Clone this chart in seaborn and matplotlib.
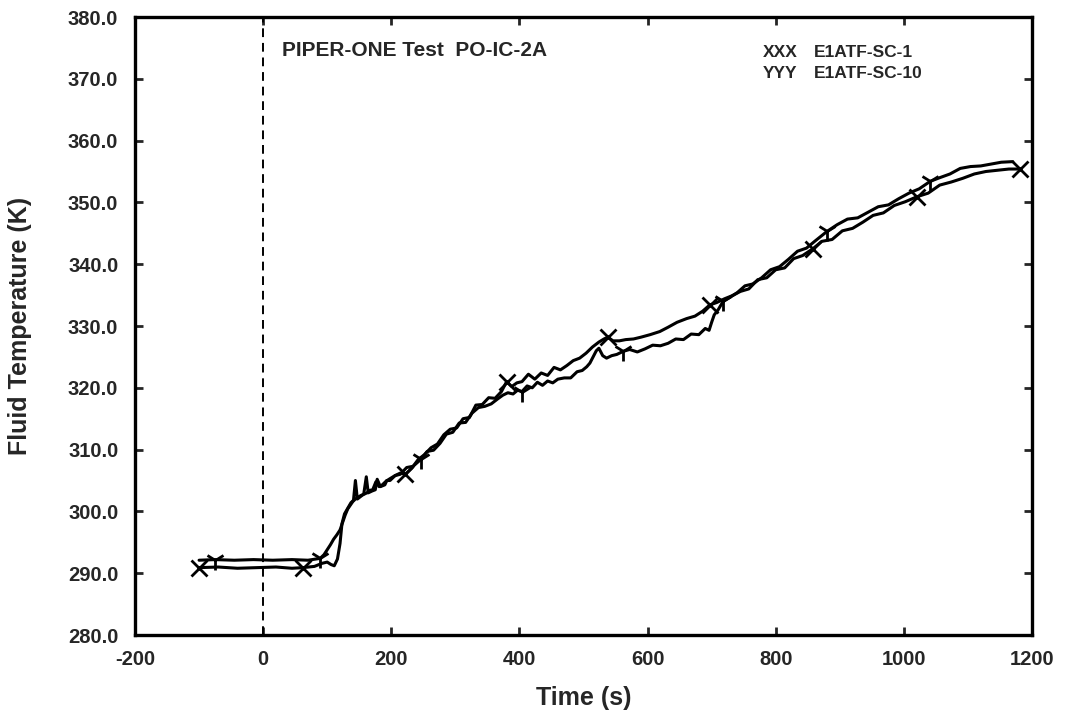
import numpy as np
import pandas as pd
import matplotlib
matplotlib.use("Agg")
import matplotlib.pyplot as plt
import seaborn as sns

# ---------------- data ----------------
time_sc1 = [-100, -70, -40, -10, 20, 45, 62, 80, 92, 100, 106, 111, 116, 120, 123, 127, 132, 137, 141, 144,
            147, 152, 157, 161, 164, 170, 175, 178, 183, 190, 193, 198, 206, 214, 222, 232, 242, 252, 262, 272,
            282, 292, 302, 312, 322, 332, 342, 352, 362, 372, 380, 388, 396, 404, 414, 424, 434, 444, 454, 464,
            474, 484, 494, 504, 514, 524, 532, 538, 546, 556, 566, 578, 590, 604, 619, 632, 646, 661, 674, 686,
            697, 708, 720, 732, 745, 758, 772, 786, 800, 814, 828, 842, 858, 872, 888, 904, 920, 936, 952, 968,
            985, 1002, 1020, 1038, 1056, 1074, 1092, 1110, 1128, 1146, 1164, 1181]
temp_sc1 = [290.9, 291.0, 290.8, 290.9, 291.0, 290.8, 290.9, 291.1, 291.6, 291.8, 291.4, 291.2, 292.3, 294.8,
            298.0, 299.6, 300.5, 301.4, 301.8, 305.0, 302.0, 302.4, 302.8, 305.6, 303.0, 303.3, 303.5, 305.2,
            304.0, 304.3, 305.0, 305.0, 305.8, 306.2, 306.0, 307.0, 308.4, 309.2, 310.3, 310.9, 312.4, 313.3,
            313.5, 315.0, 315.2, 317.2, 317.3, 318.4, 318.3, 319.4, 321.0, 320.2, 320.8, 321.0, 322.2, 321.4,
            322.4, 322.0, 323.3, 322.9, 323.6, 324.4, 324.8, 325.6, 326.6, 327.4, 327.9, 328.2, 327.6, 327.6,
            327.8, 327.9, 328.2, 328.6, 329.1, 329.8, 330.6, 331.2, 331.6, 332.4, 333.4, 333.8, 334.4, 334.9,
            335.6, 336.0, 337.5, 337.8, 339.1, 339.4, 340.9, 341.4, 342.5, 343.7, 344.0, 345.4, 345.8, 346.8,
            347.9, 348.3, 349.5, 350.1, 350.9, 351.5, 352.8, 353.3, 353.9, 354.6, 355.0, 355.2, 355.4, 355.4]
marks_sc1 = [-100, 62, 222, 380, 538, 697, 858, 1020, 1181]

time_sc10 = [-100, -75, -45, -15, 15, 45, 70, 89, 95, 100, 105, 110, 115, 120, 124, 128, 132, 136, 140, 144,
             148, 153, 158, 162, 166, 171, 176, 181, 186, 192, 198, 206, 214, 224, 234, 246, 256, 266, 276, 286,
             296, 306, 316, 326, 336, 346, 356, 366, 374, 382, 390, 397, 404, 412, 420, 428, 436, 444, 452, 460,
             470, 480, 490, 498, 505, 510, 515, 520, 524, 530, 536, 544, 552, 562, 572, 584, 596, 608, 620, 632,
             644, 656, 668, 680, 690, 696, 700, 704, 710, 718, 728, 740, 752, 764, 778, 792, 806, 820, 834, 848,
             862, 880, 896, 912, 928, 944, 960, 976, 992, 1008, 1024, 1041, 1056, 1072, 1088, 1104, 1120, 1136,
             1152, 1170]
temp_sc10 = [292.1, 292.2, 292.1, 292.2, 292.1, 292.2, 292.1, 292.4, 293.0, 293.8, 294.6, 295.5, 296.2, 297.0,
             298.2, 299.4, 300.4, 301.0, 301.6, 302.0, 302.3, 302.6, 302.8, 303.0, 303.4, 303.5, 304.8, 304.0,
             304.3, 304.9, 305.3, 305.8, 306.0, 307.1, 307.3, 308.4, 309.7, 309.9, 311.0, 312.5, 312.8, 314.3,
             314.4, 315.9, 316.8, 317.0, 317.4, 318.2, 318.8, 319.2, 319.0, 319.6, 319.4, 320.3, 320.0, 320.9,
             320.4, 321.1, 320.8, 321.4, 321.6, 321.6, 322.6, 322.8, 323.4, 324.0, 325.0, 326.0, 326.4, 325.2,
             324.8, 325.2, 325.4, 325.9, 326.2, 325.8, 326.3, 326.9, 326.8, 327.2, 327.9, 327.8, 328.7, 328.6,
             329.6, 329.3, 330.6, 331.8, 332.6, 334.0, 334.6, 335.4, 336.5, 336.8, 337.8, 339.1, 339.6, 340.8,
             342.1, 342.6, 343.8, 345.3, 346.4, 347.3, 347.5, 348.4, 349.3, 349.6, 350.6, 351.5, 352.2, 353.4,
             354.0, 354.6, 355.5, 355.8, 355.9, 356.2, 356.5, 356.6]
marks_sc10 = [-75, 89, 246, 404, 562, 718, 880, 1041]

x_ticks = [-200, 0, 200, 400, 600, 800, 1000, 1200]
y_ticks = [280, 290, 300, 310, 320, 330, 340, 350, 360, 370, 380]
event_time = 0
title_text = "PIPER-ONE Test  PO-IC-2A"
series_names = ["E1ATF-SC-1", "E1ATF-SC-10"]
series_symbols = ["XXX", "YYY"]

# ---------------- plot ----------------
sns.set_theme(style="ticks")
plt.rcParams["font.family"] = ["Liberation Sans", "DejaVu Sans"]
plt.rcParams["font.weight"] = "bold"
plt.rcParams["axes.unicode_minus"] = False

W, H = 1074, 721
left_px, right_px, top_px, bottom_px = 135, 1032, 17, 635
fig = plt.figure(figsize=(W / 100, H / 100), dpi=100)
ax = fig.add_axes([left_px / W, 1 - bottom_px / H, (right_px - left_px) / W, (bottom_px - top_px) / H])

df1 = pd.DataFrame({"Time": time_sc1, "Temp": temp_sc1})
df10 = pd.DataFrame({"Time": time_sc10, "Temp": temp_sc10})
idx1 = [time_sc1.index(t) for t in marks_sc1]
idx10 = [time_sc10.index(t) for t in marks_sc10]

sns.lineplot(data=df1, x="Time", y="Temp", ax=ax, sort=False, estimator=None, color="black",
             linewidth=2.2, marker="x", markevery=idx1, markersize=11, markeredgewidth=2.0,
             markeredgecolor="black", markerfacecolor="black")
sns.lineplot(data=df10, x="Time", y="Temp", ax=ax, sort=False, estimator=None, color="black",
             linewidth=2.2, marker="1", markevery=idx10, markersize=15, markeredgewidth=2.0,
             markeredgecolor="black", markerfacecolor="black")

ax.axvline(event_time, color="black", linewidth=1.4, linestyle=(0, (4.5, 3)))

ax.set_xlim(x_ticks[0], x_ticks[-1])
ax.set_ylim(y_ticks[0], y_ticks[-1])
ax.set_xticks(x_ticks)
ax.set_yticks(y_ticks)
ax.set_xticklabels([str(v) for v in x_ticks])
ax.set_yticklabels([f"{v:.1f}" for v in y_ticks])
ax.tick_params(direction="in", length=6, width=2, top=True, right=True, labelsize=14.5)
ax.tick_params(axis="y", pad=12)
ax.tick_params(axis="x", pad=11)
for lab in ax.get_xticklabels() + ax.get_yticklabels():
    lab.set_fontweight("bold")
for sp in ax.spines.values():
    sp.set_linewidth(2.4)
    sp.set_color("black")

ax.set_xlabel("Time (s)", fontsize=18, fontweight="bold")
ax.set_ylabel("Fluid Temperature (K)", fontsize=18, fontweight="bold")
ax.xaxis.set_label_coords(0.5, -0.083)
ax.yaxis.set_label_coords(-0.115, 0.5)

ax.text(0.164, 0.946, title_text, transform=ax.transAxes, fontsize=15, fontweight="bold",
        ha="left", va="center")
for i, (sym, name) in enumerate(zip(series_symbols, series_names)):
    yy = 0.943 - i * 0.034
    ax.text(0.700, yy, sym, transform=ax.transAxes, fontsize=12.5, fontweight="bold", ha="left", va="center")
    ax.text(0.757, yy, name, transform=ax.transAxes, fontsize=12.5, fontweight="bold", ha="left", va="center")

ax.grid(False)
fig.savefig("out.png", dpi=100)
